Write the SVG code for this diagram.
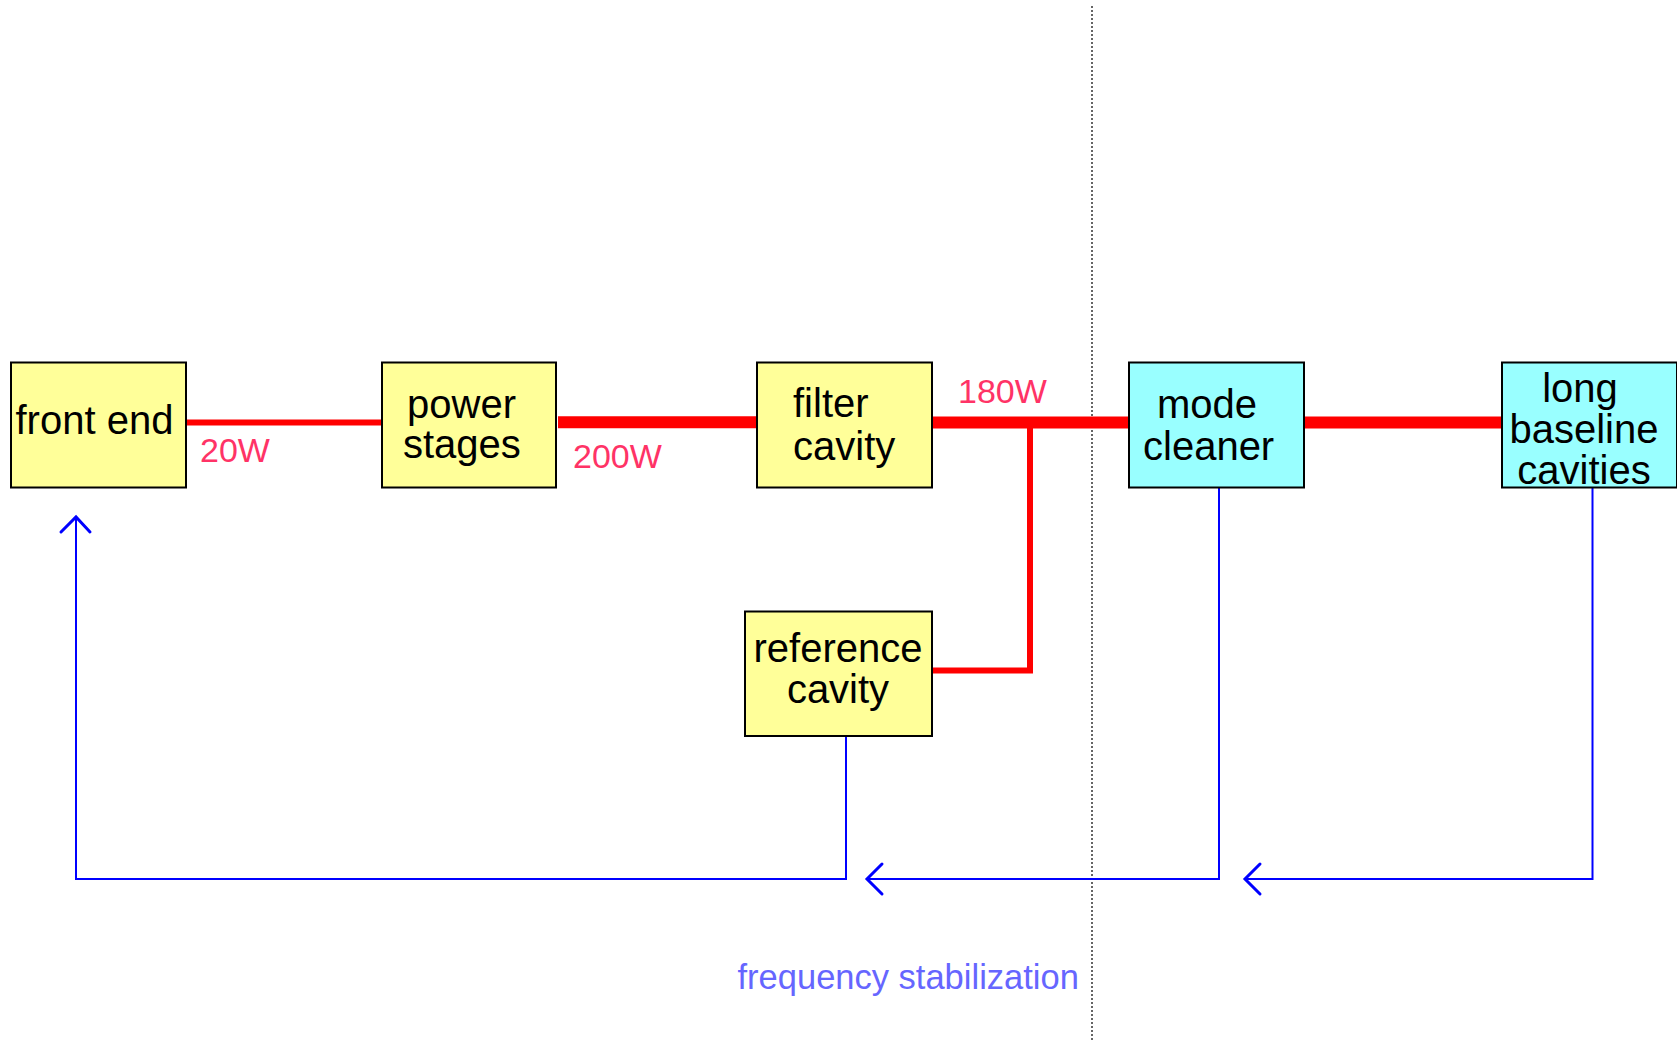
<svg xmlns="http://www.w3.org/2000/svg" width="1677" height="1042" viewBox="0 0 1677 1042">
<style>
.box{stroke:#000;stroke-width:2}
.y{fill:#ffff99}
.c{fill:#99ffff}
.t{font-family:"Liberation Sans",Arial,sans-serif;font-size:40px;fill:#000}
.w{font-family:"Liberation Sans",Arial,sans-serif;font-size:34px;fill:#ff3366}
.red{stroke:#ff0000;fill:none;stroke-linejoin:miter;stroke-linecap:butt}
.blue{stroke:#0000ff;stroke-width:2;fill:none}
.head{stroke:#0000ff;stroke-width:3;fill:none;stroke-linecap:round;stroke-linejoin:miter}
</style>
<rect width="1677" height="1042" fill="#fff"/>
<line x1="1092" y1="6" x2="1092" y2="1042" stroke="#333" stroke-width="1.5" stroke-dasharray="2,2"/>
<g id="connectors">
<line class="red" x1="186" y1="422.5" x2="382" y2="422.5" stroke-width="6"/>
<line class="red" x1="558" y1="422.3" x2="757" y2="422.3" stroke-width="12"/>
<line class="red" x1="932" y1="422.5" x2="1129" y2="422.5" stroke-width="12"/>
<line class="red" x1="1304" y1="422.5" x2="1502" y2="422.5" stroke-width="12"/>
<polyline class="red" points="1030,428 1030,670.5 932,670.5" stroke-width="6"/>
<polyline class="blue" points="846,736 846,879 76,879 76,518"/>
<polyline class="head" points="61,532 76,517 90,532"/>
<polyline class="blue" points="1219,487 1219,879 868,879"/>
<polyline class="head" points="882,864 867,879 882,894"/>
<polyline class="blue" points="1592.5,487 1592.5,879 1245,879"/>
<polyline class="head" points="1260,864 1245,879 1260,894"/>
</g>
<g id="front-end">
<rect class="box y" x="11" y="362.5" width="175" height="125"/>
<text class="t" x="15.5" y="434">front end</text>
</g>
<g id="power-stages">
<rect class="box y" x="382" y="362.5" width="174" height="125"/>
<text class="t" x="407" y="418">power</text>
<text class="t" x="403" y="458">stages</text>
</g>
<g id="filter-cavity">
<rect class="box y" x="757" y="362.5" width="175" height="125"/>
<text class="t" x="793" y="417">filter</text>
<text class="t" x="793" y="460">cavity</text>
</g>
<g id="mode-cleaner">
<rect class="box c" x="1129" y="362.5" width="175" height="125"/>
<text class="t" x="1157" y="418">mode</text>
<text class="t" x="1143" y="460">cleaner</text>
</g>
<g id="long-baseline-cavities">
<rect class="box c" x="1502" y="362.5" width="175" height="125"/>
<text class="t" x="1580" y="402" text-anchor="middle">long</text>
<text class="t" x="1584" y="443" text-anchor="middle">baseline</text>
<text class="t" x="1584" y="484" text-anchor="middle">cavities</text>
</g>
<g id="reference-cavity">
<rect class="box y" x="745" y="611.5" width="187" height="124.5"/>
<text class="t" x="838" y="662" text-anchor="middle">reference</text>
<text class="t" x="838" y="703" text-anchor="middle">cavity</text>
</g>
<g id="labels">
<text class="w" x="200" y="462">20W</text>
<text class="w" x="573" y="468">200W</text>
<text class="w" x="958" y="403">180W</text>
<text x="737.5" y="989" font-family="Liberation Sans, Arial, sans-serif" font-size="34.5" fill="#6666ff">frequency stabilization</text>
</g>
</svg>
